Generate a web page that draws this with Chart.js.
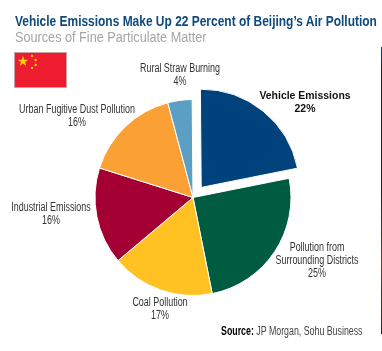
<!DOCTYPE html>
<html>
<head>
<meta charset="utf-8">
<title>Beijing Air Pollution</title>
<script src="https://cdn.jsdelivr.net/npm/chart.js@4"></script>
<style>
  html, body { margin: 0; padding: 0; background: #fff; }
  #wrap { position: relative; width: 382px; height: 351px; overflow: hidden; font-family: "Liberation Sans", sans-serif; }
  #chart { position: absolute; left: 0; top: 0; }
  .txt { position: absolute; white-space: nowrap; transform-origin: left top; }
  #title { left: 15px; top: 12px; font-size: 15px; font-weight: bold; color: #0f4a7c; transform: scaleX(0.797); }
  #subtitle { left: 15px; top: 29px; font-size: 14px; color: #a3a5a8; transform: scaleX(0.905); }
  #source { left: 221px; top: 324px; font-size: 12px; color: #444; transform: scaleX(0.735); }
  #source b { color: #000; }
  #flag { position: absolute; left: 14px; top: 52px; }
  #edge { position: absolute; left: 381px; top: 47px; width: 1px; height: 287px; background: linear-gradient(#0f4a7c, #1c1c1c 8%, #1c1c1c 50%, #5a4a3c 75%, #2a2420); }
</style>
</head>
<body>
<div id="wrap">
  <canvas id="chart" width="382" height="351"></canvas>
  <div class="txt" id="title">Vehicle Emissions Make Up 22 Percent of Beijing’s Air Pollution</div>
  <div class="txt" id="subtitle">Sources of Fine Particulate Matter</div>
  <svg id="flag" width="53" height="36" viewBox="0 0 53 36">
    <rect x="0.5" y="0.5" width="52" height="35" fill="#ed1c2e" stroke="#c9a0a4"/>
    <polygon fill="#ffd200" points="9,3.8 10.3,7.7 14.2,7.7 11.1,10.1 12.2,14 9,11.6 5.8,14 6.9,10.1 3.8,7.7 7.7,7.7"/>
    <circle cx="18" cy="4" r="1.2" fill="#ffd200"/>
    <circle cx="21.7" cy="8" r="1.2" fill="#ffd200"/>
    <circle cx="21.7" cy="13" r="1.2" fill="#ffd200"/>
    <circle cx="18" cy="16" r="1.2" fill="#ffd200"/>
  </svg>
  <div id="edge"></div>
  <div class="txt" id="source"><b>Source:</b> JP Morgan, Sohu Business</div>
</div>
<script>
// Chart data
const categories = ['Vehicle Emissions', 'Pollution from Surrounding Districts', 'Coal Pollution',
  'Industrial Emissions', 'Urban Fugitive Dust Pollution', 'Rural Straw Burning'];
const shares = [22, 25, 17, 16, 16, 4];
const sliceColors = ['#00437c', '#005c40', '#ffc222', '#a50034', '#fba034', '#5b9fc5'];
const sliceOffsets = [52, 0, 0, 0, 0, 0]; // arc draws at offset/4

// Label text lines, centered on these spots
const labelLines = [['Vehicle Emissions', '22%'], ['Pollution from', 'Surrounding Districts', '25%'], ['Coal Pollution', '17%'],
  ['Industrial Emissions', '16%'], ['Urban Fugitive Dust Pollution', '16%'], ['Rural Straw Burning', '4%']];
const labelSpots = [[305, 96], [317, 248], [160, 303], [51, 208], [77, 110], [180, 69]];

const sliceLabels = {
  id: 'sliceLabels',
  afterDraw(chart) {
    const ctx = chart.ctx;
    labelLines.forEach((lines, i) => {
      lines.forEach((line, j) => {
        ctx.save();
        ctx.translate(labelSpots[i][0], labelSpots[i][1] + j * 13);
        // no narrow font installed, so squeeze the text
        ctx.scale(i === 0 ? 0.95 : 0.745, 1);
        ctx.textAlign = 'center';
        ctx.textBaseline = 'middle';
        ctx.font = i === 0 ? 'bold 11px "Liberation Sans", sans-serif' : '12px "Liberation Sans", sans-serif';
        ctx.fillStyle = i === 0 ? '#111' : '#333';
        ctx.fillText(line, 0, 0);
        ctx.restore();
      });
    });
  }
};

new Chart(document.getElementById('chart').getContext('2d'), {
  type: 'pie',
  data: {
    labels: categories,
    datasets: [{
      data: shares,
      backgroundColor: sliceColors,
      offset: sliceOffsets,
      borderColor: '#fff',
      borderWidth: 1
    }]
  },
  options: {
    responsive: false,
    animation: false,
    radius: 98,
    rotation: -0.5,
    layout: { padding: { left: 4, right: 0, top: 44, bottom: 0 } },
    plugins: { legend: { display: false }, tooltip: { enabled: false } }
  },
  plugins: [sliceLabels]
});
</script>
</body>
</html>
